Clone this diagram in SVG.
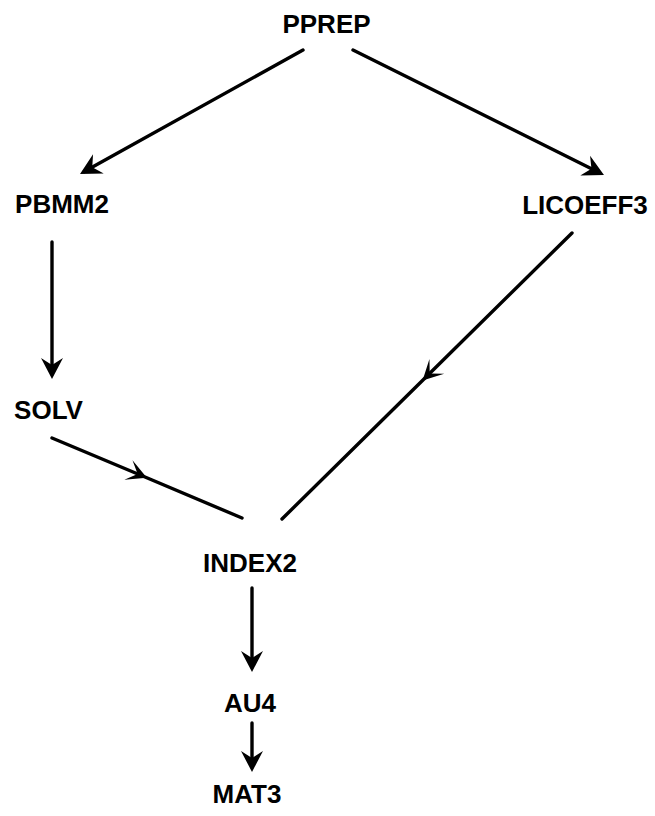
<svg xmlns="http://www.w3.org/2000/svg" width="655" height="816" viewBox="0 0 655 816">
<style>
.lbl{font-family:"Liberation Sans",Arial,Helvetica,sans-serif;font-weight:bold;font-size:26px;fill:#000;text-anchor:middle}
.edge{stroke:#000;stroke-width:3.4;fill:none;stroke-linecap:round}
</style>
<defs>
<marker id="ah" markerUnits="userSpaceOnUse" orient="auto" refX="0" refY="0" markerWidth="30" markerHeight="30" overflow="visible">
<path d="M5,0 L-16,-11 L-9,0 L-16,11 Z" fill="#000"/>
</marker>
<marker id="am" markerUnits="userSpaceOnUse" orient="auto" refX="0" refY="0" markerWidth="30" markerHeight="30" overflow="visible">
<path d="M2,0 L-18,-10.5 L-8,0 L-18,10.5 Z" fill="#000"/>
</marker>
</defs>
<rect width="655" height="816" fill="#fff"/>
<g id="connectors">
<line class="edge" x1="303" y1="50" x2="84.4" y2="171.6" marker-end="url(#ah)"/>
<line class="edge" x1="353" y1="50" x2="599.5" y2="172.8" marker-end="url(#ah)"/>
<line class="edge" x1="52" y1="242" x2="52" y2="374" marker-end="url(#ah)"/>
<path class="edge" d="M52,438 L145,477 L242,518" marker-mid="url(#am)"/>
<path class="edge" d="M572,233 L424,379 L282,519" marker-mid="url(#am)"/>
<line class="edge" x1="252" y1="588" x2="252" y2="667" marker-end="url(#ah)"/>
<line class="edge" x1="252" y1="723" x2="252" y2="767" marker-end="url(#ah)"/>
</g>
<g id="PPREP"><text class="lbl" x="326.5" y="33">PPREP</text></g>
<g id="PBMM2"><text class="lbl" x="62" y="213">PBMM2</text></g>
<g id="LICOEFF3"><text class="lbl" x="585" y="214">LICOEFF3</text></g>
<g id="SOLV"><text class="lbl" x="48.5" y="419">SOLV</text></g>
<g id="INDEX2"><text class="lbl" x="250" y="572">INDEX2</text></g>
<g id="AU4"><text class="lbl" x="250" y="712">AU4</text></g>
<g id="MAT3"><text class="lbl" x="247" y="803">MAT3</text></g>
</svg>
